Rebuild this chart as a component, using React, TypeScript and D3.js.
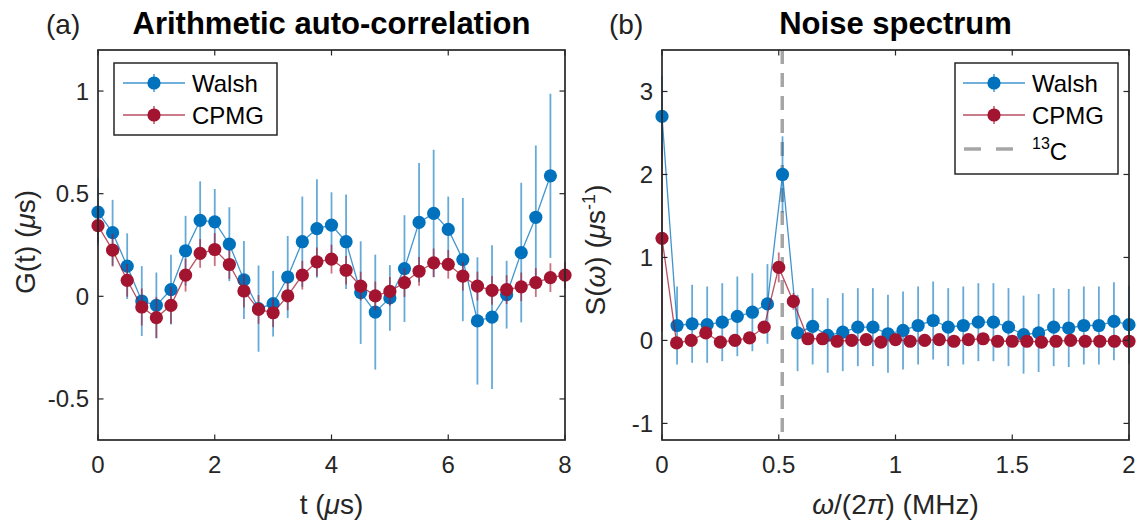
import React from "react";
import * as d3 from "d3";

// ---- Panel (a): arithmetic auto-correlation G(t) ----
const tWalsh = [0, 0.25, 0.5, 0.75, 1, 1.25, 1.5, 1.75, 2, 2.25, 2.5, 2.75, 3, 3.25, 3.5, 3.75, 4, 4.25, 4.5, 4.75, 5, 5.25, 5.5, 5.75, 6, 6.25, 6.5, 6.75, 7, 7.25, 7.5, 7.75];
const gWalsh = [0.41, 0.31, 0.147, -0.023, -0.044, 0.033, 0.222, 0.37, 0.363, 0.254, 0.08, -0.06, -0.036, 0.094, 0.266, 0.33, 0.347, 0.266, 0.018, -0.077, -0.008, 0.135, 0.36, 0.404, 0.326, 0.179, -0.12, -0.101, 0.008, 0.213, 0.385, 0.587];
const gWalshErr = [0.163, 0.16, 0.16, 0.17, 0.16, 0.17, 0.17, 0.19, 0.16, 0.18, 0.19, 0.21, 0.16, 0.2, 0.22, 0.24, 0.16, 0.23, 0.25, 0.28, 0.16, 0.26, 0.29, 0.31, 0.16, 0.3, 0.31, 0.35, 0.165, 0.34, 0.35, 0.4];

const tCpmg = [0, 0.25, 0.5, 0.75, 1, 1.25, 1.5, 1.75, 2, 2.25, 2.5, 2.75, 3, 3.25, 3.5, 3.75, 4, 4.25, 4.5, 4.75, 5, 5.25, 5.5, 5.75, 6, 6.25, 6.5, 6.75, 7, 7.25, 7.5, 7.75, 8];
const gCpmg = [0.344, 0.225, 0.078, -0.052, -0.104, -0.044, 0.103, 0.209, 0.228, 0.155, 0.026, -0.064, -0.08, 0.002, 0.103, 0.168, 0.181, 0.127, 0.05, 0.002, 0.024, 0.067, 0.122, 0.163, 0.156, 0.098, 0.05, 0.029, 0.033, 0.046, 0.067, 0.091, 0.103];
const gCpmgErr = [0.08, 0.08, 0.08, 0.09, 0.1, 0.09, 0.08, 0.07, 0.08, 0.07, 0.08, 0.07, 0.07, 0.07, 0.07, 0.07, 0.07, 0.07, 0.07, 0.07, 0.07, 0.07, 0.07, 0.07, 0.07, 0.07, 0.07, 0.07, 0.07, 0.07, 0.07, 0.07, 0.065];

const gTicksX = [0, 2, 4, 6, 8];
const gTicksY = [-0.5, 0, 0.5, 1];

// ---- Panel (b): noise spectrum S(omega) ----
const fWalsh = [0, 0.0645, 0.129, 0.1935, 0.258, 0.3226, 0.3871, 0.4516, 0.5161, 0.5806, 0.6452, 0.7097, 0.7742, 0.8387, 0.9032, 0.9677, 1.0323, 1.0968, 1.1613, 1.2258, 1.2903, 1.3548, 1.4194, 1.4839, 1.5484, 1.6129, 1.6774, 1.7419, 1.8065, 1.871, 1.9355, 2.0];
const sWalsh = [2.7, 0.18, 0.2, 0.19, 0.22, 0.29, 0.34, 0.44, 2.0, 0.09, 0.17, 0.06, 0.1, 0.16, 0.16, 0.08, 0.12, 0.18, 0.24, 0.16, 0.18, 0.22, 0.22, 0.16, 0.07, 0.09, 0.16, 0.15, 0.18, 0.18, 0.23, 0.19];
const sWalshErr = [0.49, 0.47, 0.47, 0.46, 0.47, 0.48, 0.47, 0.48, 0.46, 0.46, 0.46, 0.45, 0.47, 0.47, 0.47, 0.47, 0.47, 0.47, 0.47, 0.47, 0.47, 0.47, 0.47, 0.47, 0.47, 0.47, 0.47, 0.47, 0.47, 0.47, 0.47, 0.47];

const fCpmg = [0, 0.0625, 0.125, 0.1875, 0.25, 0.3125, 0.375, 0.4375, 0.5, 0.5625, 0.625, 0.6875, 0.75, 0.8125, 0.875, 0.9375, 1, 1.0625, 1.125, 1.1875, 1.25, 1.3125, 1.375, 1.4375, 1.5, 1.5625, 1.625, 1.6875, 1.75, 1.8125, 1.875, 1.9375, 2];
const sCpmg = [1.23, -0.03, 0.0, 0.09, -0.02, 0.0, 0.03, 0.16, 0.88, 0.47, 0.02, 0.02, -0.01, 0.0, 0.01, -0.02, 0.01, -0.01, 0.0, 0.01, -0.01, 0.01, 0.02, -0.01, -0.01, -0.01, -0.02, -0.01, 0.0, -0.01, -0.01, -0.01, -0.01];
const sCpmgErr = [1.12, 0.04, 0.04, 0.05, 0.04, 0.04, 0.04, 0.05, 0.18, 0.1, 0.04, 0.04, 0.04, 0.04, 0.04, 0.04, 0.04, 0.04, 0.04, 0.04, 0.04, 0.04, 0.04, 0.04, 0.04, 0.04, 0.04, 0.04, 0.04, 0.04, 0.04, 0.04, 0.04];

const carbon13 = 0.515;
const sTicksX = [0, 0.5, 1, 1.5, 2];
const sTicksY = [-1, 0, 1, 2, 3];

const BLUE = "#0072BD";
const RED = "#A2142F";
const AXIS = "#262626";
const FONT = "'Liberation Sans', Arial, Helvetica, sans-serif";
const TICK_FS = 24;
const LABEL_FS = 28;
const TITLE_FS = 31;

type Series = { xs: number[]; ys: number[]; err: number[]; color: string };

function ErrSeries({ s, x, y }: { s: Series; x: d3.ScaleLinear<number, number>; y: d3.ScaleLinear<number, number> }) {
  const pts = s.xs.map((v, i) => [v, s.ys[i]] as [number, number]);
  const line = d3.line<[number, number]>().x((d) => x(d[0])).y((d) => y(d[1]));
  return (
    <g>
      {pts.map((d, i) => (
        <line key={"e" + i} x1={x(d[0])} x2={x(d[0])} y1={y(d[1] - s.err[i])} y2={y(d[1] + s.err[i])}
          stroke={s.color} strokeWidth={1.8} strokeOpacity={0.6} />
      ))}
      <path d={line(pts) || ""} fill="none" stroke={s.color} strokeWidth={1.3} strokeOpacity={0.75} />
      {pts.map((d, i) => (
        <circle key={"m" + i} cx={x(d[0])} cy={y(d[1])} r={6.6} fill={s.color} />
      ))}
    </g>
  );
}

function Frame({ x, y, xt, yt, xfmt, yfmt }: {
  x: d3.ScaleLinear<number, number>; y: d3.ScaleLinear<number, number>;
  xt: number[]; yt: number[]; xfmt: (v: number) => string; yfmt: (v: number) => string;
}) {
  const [x0, x1] = x.range();
  const [y1, y0] = y.range();
  const tl = 5.5;
  return (
    <g fontFamily={FONT} fontSize={TICK_FS} fill={AXIS}>
      {xt.map((v) => (
        <g key={"xt" + v}>
          <line x1={x(v)} x2={x(v)} y1={y1} y2={y1 - tl} stroke={AXIS} strokeWidth={1.2} />
          <line x1={x(v)} x2={x(v)} y1={y0} y2={y0 + tl} stroke={AXIS} strokeWidth={1.2} />
          <text x={x(v)} y={y1 + 33} textAnchor="middle">{xfmt(v)}</text>
        </g>
      ))}
      {yt.map((v) => (
        <g key={"yt" + v}>
          <line x1={x0} x2={x0 + tl} y1={y(v)} y2={y(v)} stroke={AXIS} strokeWidth={1.2} />
          <line x1={x1} x2={x1 - tl} y1={y(v)} y2={y(v)} stroke={AXIS} strokeWidth={1.2} />
          <text x={x0 - 9} y={y(v) + 8.5} textAnchor="end">{yfmt(v)}</text>
        </g>
      ))}
      <rect x={x0} y={y0} width={x1 - x0} height={y1 - y0} fill="none" stroke={AXIS} strokeWidth={1.7} />
    </g>
  );
}

function LegendEntry({ x, yc, color, label }: { x: number; yc: number; color: string; label: string }) {
  return (
    <g>
      <line x1={x} x2={x + 62} y1={yc} y2={yc} stroke={color} strokeWidth={1.3} strokeOpacity={0.75} />
      <line x1={x + 31} x2={x + 31} y1={yc - 9} y2={yc + 9} stroke={color} strokeWidth={1.8} strokeOpacity={0.6} />
      <circle cx={x + 31} cy={yc} r={6.6} fill={color} />
      <text x={x + 69} y={yc + 8.5} fontFamily={FONT} fontSize={TICK_FS} fill="#000">{label}</text>
    </g>
  );
}

export default function App() {
  const gx = d3.scaleLinear().domain([0, 8]).range([98, 565]);
  const gy = d3.scaleLinear().domain([-0.7, 1.2]).range([440, 50]);
  const sx = d3.scaleLinear().domain([0, 2]).range([662, 1129]);
  const sy = d3.scaleLinear().domain([-1.2, 3.5]).range([440, 50]);

  const fmt = (v: number) => (v < 0 ? "-" + String(-v) : String(v));

  return (
    <svg width={1140} height={523} style={{ position: "absolute", left: 0, top: 0, background: "#fff" }}>
      {/* Panel (a) */}
      <text x={46} y={34} fontFamily={FONT} fontSize={28} fill="#222">(a)</text>
      <text x={331.5} y={34} textAnchor="middle" fontFamily={FONT} fontSize={TITLE_FS} fontWeight="bold" fill="#000">
        Arithmetic auto-correlation
      </text>
      <ErrSeries s={{ xs: tWalsh, ys: gWalsh, err: gWalshErr, color: BLUE }} x={gx} y={gy} />
      <ErrSeries s={{ xs: tCpmg, ys: gCpmg, err: gCpmgErr, color: RED }} x={gx} y={gy} />
      <Frame x={gx} y={gy} xt={gTicksX} yt={gTicksY} xfmt={fmt} yfmt={fmt} />
      <g>
        <rect x={114} y={63} width={163} height={72} fill="#fff" stroke={AXIS} strokeWidth={1.5} />
        <LegendEntry x={123} yc={83} color={BLUE} label="Walsh" />
        <LegendEntry x={123} yc={115} color={RED} label="CPMG" />
      </g>
      <text x={331.5} y={514} textAnchor="middle" fontFamily={FONT} fontSize={LABEL_FS} fill={AXIS}>
        t (<tspan fontStyle="italic">μ</tspan>s)
      </text>
      <text transform="translate(35,242) rotate(-90)" textAnchor="middle" fontFamily={FONT} fontSize={LABEL_FS} fill={AXIS}>
        G(t) (<tspan fontStyle="italic">μ</tspan>s)
      </text>

      {/* Panel (b) */}
      <text x={609} y={34} fontFamily={FONT} fontSize={28} fill="#222">(b)</text>
      <text x={895.5} y={34} textAnchor="middle" fontFamily={FONT} fontSize={TITLE_FS} fontWeight="bold" fill="#000">
        Noise spectrum
      </text>
      <line x1={sx(carbon13)} x2={sx(carbon13)} y1={sy.range()[1]} y2={sy.range()[0]}
        stroke="#A6A6A6" strokeWidth={3.5} strokeDasharray="14,9" />
      <ErrSeries s={{ xs: fWalsh, ys: sWalsh, err: sWalshErr, color: BLUE }} x={sx} y={sy} />
      <ErrSeries s={{ xs: fCpmg, ys: sCpmg, err: sCpmgErr, color: RED }} x={sx} y={sy} />
      <Frame x={sx} y={sy} xt={sTicksX} yt={sTicksY} xfmt={fmt} yfmt={fmt} />
      <g>
        <rect x={955} y={63} width={163} height={111} fill="#fff" stroke={AXIS} strokeWidth={1.5} />
        <LegendEntry x={963} yc={83} color={BLUE} label="Walsh" />
        <LegendEntry x={963} yc={115} color={RED} label="CPMG" />
        <line x1={964} x2={1025} y1={149} y2={149} stroke="#A6A6A6" strokeWidth={3.5} strokeDasharray="17,15" />
        <text x={1032} y={160} fontFamily={FONT} fontSize={TICK_FS} fill="#000">
          <tspan fontSize={16} dy={-11}>13</tspan><tspan dy={11}>C</tspan>
        </text>
      </g>
      <text x={895.5} y={514} textAnchor="middle" fontFamily={FONT} fontSize={LABEL_FS} fill={AXIS}>
        <tspan fontStyle="italic">ω</tspan>/(2<tspan fontStyle="italic">π</tspan>) (MHz)
      </text>
      <text transform="translate(605,250) rotate(-90)" textAnchor="middle" fontFamily={FONT} fontSize={LABEL_FS} fill={AXIS}>
        S(<tspan fontStyle="italic">ω</tspan>) (<tspan fontStyle="italic">μ</tspan>s<tspan fontSize={18} dy={-10}>-1</tspan><tspan dy={10}>)</tspan>
      </text>
    </svg>
  );
}
